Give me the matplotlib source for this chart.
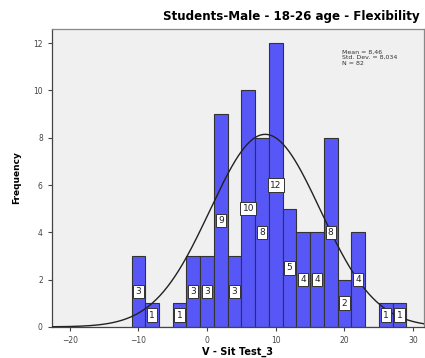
import numpy as np
import matplotlib
matplotlib.use("Agg")
import matplotlib.pyplot as plt

# Data
bin_left_edges = [-11, -9, -7, -5, -3, -1, 1, 3, 5, 7, 9, 11, 13, 15, 17, 19, 21, 23, 25, 27]
frequencies = [3, 1, 0, 1, 3, 3, 9, 3, 10, 8, 12, 5, 4, 4, 8, 2, 4, 0, 1, 1]
bin_width = 2
mean_val = 8.46
std_val = 8.034
n_val = 82
x_ticks = [-20, -10, 0, 10, 20, 30]
y_ticks = [0, 2, 4, 6, 8, 10, 12]
title = "Students-Male - 18-26 age - Flexibility"
xlabel = "V - Sit Test_3"
ylabel = "Frequency"
stats_text = "Mean = 8,46\nStd. Dev. = 8,034\nN = 82"

fig = plt.figure(figsize=(4.25, 3.58), dpi=100)
ax = fig.add_axes([0.122, 0.087, 0.876, 0.832])
ax.set_facecolor("#F0F0F0")

ax.bar(bin_left_edges, frequencies, width=bin_width, align="edge",
       color="#5757F7", edgecolor="#333333", linewidth=0.8, zorder=2)

for xl, f in zip(bin_left_edges, frequencies):
    if f > 0:
        ax.text(xl + bin_width / 2, f / 2, str(f), ha="center", va="center",
                fontsize=6.5, color="#222222", zorder=4,
                bbox=dict(boxstyle="square,pad=0.25", fc="white", ec="#333333", lw=0.7))

xs = np.linspace(-22.6, 31.6, 400)
ys = n_val * bin_width / (std_val * np.sqrt(2 * np.pi)) * np.exp(-0.5 * ((xs - mean_val) / std_val) ** 2)
ax.plot(xs, ys, color="#222222", lw=1.0, zorder=3)

ax.set_xlim(-22.6, 31.6)
ax.set_ylim(0, 12.6)
ax.set_xticks(x_ticks)
ax.set_yticks(y_ticks)
ax.tick_params(labelsize=5.5, colors="#444444", length=3, width=0.8)
for s in ax.spines.values():
    s.set_color("#888888")
    s.set_linewidth(0.9)
ax.spines["left"].set_color("#444444")
ax.spines["bottom"].set_color("#444444")

ax.set_xlabel(xlabel, fontsize=7, fontweight="bold", labelpad=1)
ax.set_ylabel(ylabel, fontsize=6.5, fontweight="bold", labelpad=9)

fig.text(0.988, 0.937, title, ha="right", va="bottom", fontsize=8.6, fontweight="bold")

ax.text(0.78, 0.93, stats_text,
        transform=ax.transAxes, ha="left", va="top", fontsize=4.5, color="#333333", linespacing=1.1)

fig.savefig("out.png", dpi=100)
